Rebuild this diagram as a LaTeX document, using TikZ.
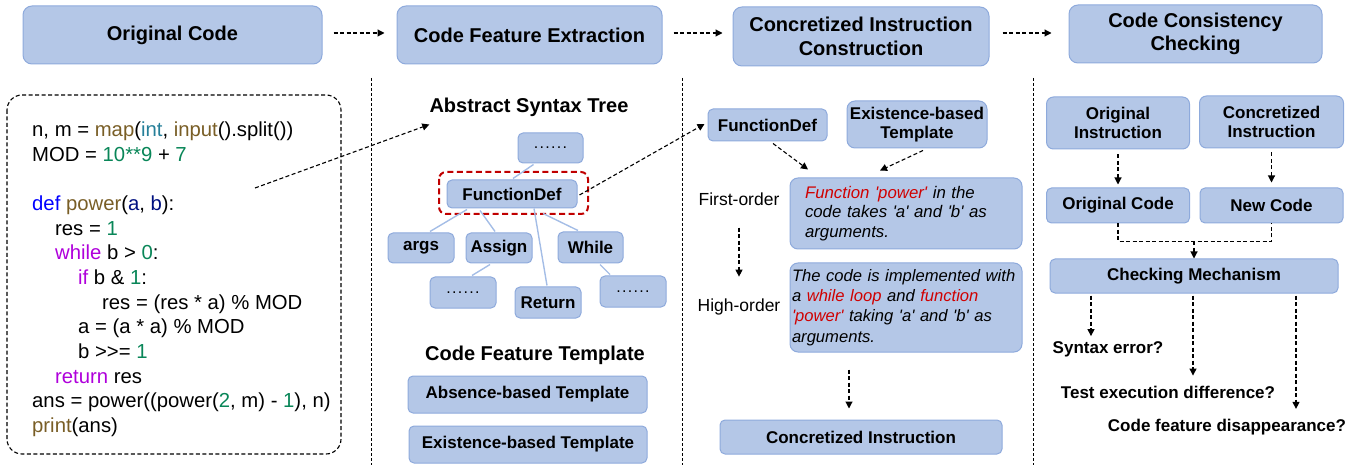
\documentclass[tikz,border=0pt]{standalone}
\usepackage{fontspec}
\setmainfont{Liberation Sans}[Ligatures=TeXOff]
\usetikzlibrary{arrows.meta,calc}
\definecolor{bfill}{HTML}{B4C7E7}
\definecolor{bord}{HTML}{8EAADC}
\definecolor{edgec}{HTML}{A4BDE6}
\definecolor{redc}{HTML}{C00000}
\definecolor{txtred}{HTML}{D00000}
\definecolor{cfn}{HTML}{795E26}
\definecolor{ctyp}{HTML}{267F99}
\definecolor{cnum}{HTML}{098658}
\definecolor{cdef}{HTML}{0000FF}
\definecolor{cpar}{HTML}{001080}
\definecolor{cctl}{HTML}{AF00DB}
\newcommand{\kfn}[1]{\textcolor{cfn}{#1}}
\newcommand{\ktyp}[1]{\textcolor{ctyp}{#1}}
\newcommand{\knum}[1]{\textcolor{cnum}{#1}}
\newcommand{\kdef}[1]{\textcolor{cdef}{#1}}
\newcommand{\kpar}[1]{\textcolor{cpar}{#1}}
\newcommand{\kctl}[1]{\textcolor{cctl}{#1}}
\newcommand{\kred}[1]{\textcolor{txtred}{#1}}
\newcommand{\kdots}{.\hspace{1.3pt}.\hspace{1.3pt}.\hspace{1.3pt}.\hspace{1.3pt}.\hspace{1.3pt}.}
\begin{document}
\begin{tikzpicture}[x=1pt,y=-1pt,
  sz/.style 2 args={minimum width=#1pt, minimum height=#2pt},
  bx/.style={draw=bord, fill=bfill, rounded corners=5pt, line width=1pt, inner sep=0pt, align=center, font=\bfseries\fontsize{17}{19.5}\selectfont},
  hd/.style={bx, rounded corners=9pt, font=\bfseries\fontsize{20}{23.5}\selectfont},
  tb/.style={draw=bord, fill=bfill, rounded corners=8pt, line width=1pt, inner ysep=0pt, align=left},
  ttl/.style={inner sep=0pt, font=\bfseries\fontsize{20}{24}\selectfont},
  lbl/.style={inner sep=0pt, font=\fontsize{17.5}{20}\selectfont},
  qlbl/.style={inner sep=0pt, font=\bfseries\fontsize{17}{20}\selectfont},
  cl/.style={anchor=base west, inner sep=0pt, font=\fontsize{20.3}{24}\selectfont},
  da/.style={dash pattern=on 4pt off 2.5pt, line width=1.1pt, -{Triangle[length=7pt,width=7pt]}},
  dl/.style={dash pattern=on 4pt off 2.5pt, line width=1.1pt},
  sep/.style={dash pattern=on 3pt off 2pt, line width=0.9pt},
  te/.style={draw=edgec, line width=1.4pt}
]
\useasboundingbox (0,0) rectangle (1358,465);

% header
\node[hd, sz={299}{58}] (h1) at (172.5,35) {Original Code};
\node[hd, sz={265}{58}] (h2) at (529.5,35) {Code Feature Extraction};
\node[hd, sz={256}{59}] (h3) at (861,36.5) {Concretized Instruction\\Construction};
\node[hd, sz={253}{58}] (h4) at (1195.5,34) {Code Consistency\\Checking};
\draw[da] ($(h1.east)+(11,-2)$) -- ($(h2.west)+(-12,-2)$);
\draw[da] ($(h2.east)+(11,-2)$) -- ($(h3.west)+(-10,-3.5)$);
\draw[da] ($(h3.east)+(13,-3.5)$) -- ($(h4.west)+(-17,-1)$);

% separators
\draw[sep] (371,78) -- (371,465);
\draw[sep] (682,78) -- (682,465);
\draw[sep] (1033,78) -- (1033,465);

% code box
\draw[dl, rounded corners=15pt] (7,95) rectangle (341,454);
\node[cl] (l1) at (32,137) {n, m = \kfn{map}(\ktyp{int}, \kfn{input}().split())};
\node[cl] (l2) at (32,161.6) {MOD = \knum{10**9} + \knum{7}};
\node[cl] (l3) at (32,210.8) {\kdef{def} \kfn{power}(\kpar{a}, \kpar{b}):};
\node[cl] (l4) at (55,235.4) {res = \knum{1}};
\node[cl] (l5) at (55,260) {\kctl{while} b > \knum{0}:};
\node[cl] (l6) at (78,284.6) {\kctl{if} b \& \knum{1}:};
\node[cl] (l7) at (102,309.2) {res = (res * a) \% MOD};
\node[cl] (l8) at (78,333.8) {a = (a * a) \% MOD};
\node[cl] (l9) at (78,358.4) {b >{}>= \knum{1}};
\node[cl] (l10) at (55,383) {\kctl{return} res};
\node[cl] (l11) at (32,407.6) {ans = power((power(\knum{2}, m) - \knum{1}), n)};
\node[cl] (l12) at (32,432.2) {\kfn{print}(ans)};
\coordinate (cs) at (255,188);

% AST
\node[ttl] (ast) at (529,107) {Abstract Syntax Tree};
\draw[da] (cs) -- ($(ast.south west)+(0,8)$);
\node[bx, sz={65}{30}, font=\fontsize{16}{20}\selectfont] (t0) at (550.5,148) {\kdots};
\node[bx, sz={130}{28}] (fd) at (512,194) {FunctionDef};
\draw[draw=redc, line width=2pt, dash pattern=on 6pt off 3.5pt, rounded corners=7pt] (439,172) rectangle (588,214);
\node[bx, sz={66}{30}] (args) at (421,248) {args};
\node[bx, sz={66}{30}] (asg) at (499,248) {Assign};
\node[bx, sz={65}{31}] (whl) at (590.5,247.5) {While};
\node[bx, sz={66}{31}, font=\fontsize{16}{20}\selectfont] (d1) at (463,292.5) {\kdots};
\node[bx, sz={66}{31}] (ret) at (548,302.5) {Return};
\node[bx, sz={66}{31}, font=\fontsize{16}{20}\selectfont] (d2) at (633,291.5) {\kdots};
\draw[te] ($(t0.south)+(-17,1)$) -- ($(fd.north)+(1,-1)$);
\draw[te] ($(fd.south)+(-45,1)$) -- ($(args.north)+(9,-1)$);
\draw[te] ($(fd.south)+(-32,2)$) -- ($(asg.north)+(-4,-1)$);
\draw[te] ($(fd.south)+(22,0)$) -- ($(ret.north)+(-1,-1)$);
\draw[te] ($(fd.south)+(31,5)$) -- ($(whl.north)+(-12.5,-1)$);
\draw[te] ($(asg.south)+(-9,1)$) -- ($(d1.north)+(9,-1)$);
\draw[te] ($(whl.south)+(9.5,1)$) -- ($(d2.north)+(-23,-1)$);

% templates
\node[ttl] (cft) at (535,355) {Code Feature Template};
\node[bx, sz={239}{37}] (abs) at (527.5,394.5) {Absence-based Template};
\node[bx, sz={238}{37}] (ext) at (528,444.5) {Existence-based Template};

% section 3
\node[bx, sz={119}{32}] (fd2) at (767.5,125) {FunctionDef};
\node[bx, sz={140}{47}, rounded corners=8pt] (ext2) at (917,124.5) {Existence-based\\Template};
\draw[da] ($(fd.east)+(2,1)$) -- ($(fd2.west)+(-3,-1)$);
\node[lbl] (fo) at (739,199) {First-order};
\node[lbl] (ho) at (739,307) {High-order};
\node[tb, minimum height=71pt, text width=202pt, inner xsep=15pt, font=\itshape\fontsize{16.8}{19.5}\selectfont] (b1) at (906,213.5) {\kred{Function 'power'} in the\\code takes 'a' and 'b' as\\arguments.};
\node[tb, minimum height=89pt, text width=228pt, inner xsep=2pt, font=\itshape\fontsize{16.6}{20.3}\selectfont] (b2) at (906,307.5) {The code is implemented with\\a \kred{while loop} and \kred{function}\\\kred{'power'} taking 'a' and 'b' as\\arguments.};
\node[bx, sz={282}{34}] (ci) at (861,437) {Concretized Instruction};
\draw[da] ($(fd2.south)+(5.5,2)$) -- ($(b1.north)+(-98,-8)$);
\draw[da] ($(ext2.south)+(6,2)$) -- ($(b1.north)+(-26,-7)$);
\draw[da] ($(fo.south)+(0,22)$) -- ($(ho.north)+(0,-22)$);
\draw[da] ($(b2.south)+(-57,17)$) -- ($(ci.north)+(-12,-11)$);

% section 4
\node[bx, sz={143}{52}, rounded corners=7pt] (oi) at (1118,123) {Original\\Instruction};
\node[bx, sz={144}{52}, rounded corners=7pt] (cis) at (1271.5,122) {Concretized\\Instruction};
\node[bx, sz={143}{35}] (oc2) at (1118,205.5) {Original Code};
\node[bx, sz={143}{35}] (nc) at (1271.5,205.5) {New Code};
\node[bx, sz={288}{34}] (cm) at (1194,276) {Checking Mechanism};
\draw[da] ($(oi.south)+(0,5)$) -- ($(oc2.north)+(0,-3)$);
\draw[da] ($(cis.south)+(0,4)$) -- ($(nc.north)+(0,-5)$);
\draw[dl] (oc2.south) -- ++(0,18) coordinate (m1) -| (nc.south);
\draw[da] (cm.north |- m1) -- (cm.north);
\node[qlbl] (se) at (1108,349) {Syntax error?};
\node[qlbl] (tx) at (1168,392) {Test execution difference?};
\node[qlbl] (cf) at (1227,427) {Code feature disappearance?};
\coordinate (s1) at ($(cm.south)+(-103,2)$);
\coordinate (s2) at ($(cm.south)+(-1,2)$);
\coordinate (s3) at ($(cm.south)+(102,2)$);
\draw[da, shorten >=5pt] (s1) -- (s1 |- se.north);
\draw[da, shorten >=10pt] (s2) -- (s2 |- tx.north);
\draw[da, shorten >=10pt] (s3) -- (s3 |- cf.north);
\end{tikzpicture}
\end{document}
